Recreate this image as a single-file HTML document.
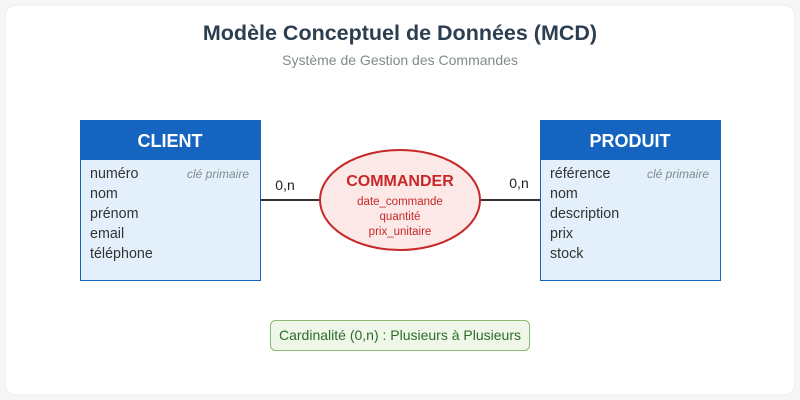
<!DOCTYPE html>
<html><head><meta charset="utf-8"><style>
html,body{margin:0;padding:0;background:#f5f6f8;}
svg{display:block;font-family:"Liberation Sans",sans-serif;}
</style></head><body>
<svg width="800" height="400" viewBox="0 0 800 400">
<rect x="0" y="0" width="800" height="400" fill="#f5f6f8"/>
<rect x="5.5" y="5.5" width="789" height="389" rx="10" fill="#ffffff" stroke="#eceef1"/>
<text x="400" y="40" text-anchor="middle" font-size="21.5" font-weight="bold" fill="#2c3e50">Modèle Conceptuel de Données (MCD)</text>
<text x="400" y="65" text-anchor="middle" font-size="14" fill="#7f8c8d">Système de Gestion des Commandes</text>

<line x1="260" y1="200" x2="320" y2="200" stroke="#333" stroke-width="2"/>
<line x1="480" y1="200" x2="540" y2="200" stroke="#333" stroke-width="2"/>
<text x="285" y="190" text-anchor="middle" font-size="14" fill="#222">0,n</text>
<text x="519" y="188" text-anchor="middle" font-size="14" fill="#222">0,n</text>

<rect x="80.5" y="120.5" width="180" height="160" fill="#e3f0fb" stroke="#1565c0"/>
<rect x="80" y="120" width="181" height="40" fill="#1565c0"/>
<text x="170" y="147" text-anchor="middle" font-size="18" font-weight="bold" fill="#fff">CLIENT</text>
<g font-size="14.3" fill="#333">
<text x="90" y="178">numéro</text><text x="90" y="198">nom</text><text x="90" y="218">prénom</text><text x="90" y="238">email</text><text x="90" y="258">téléphone</text>
</g>
<text x="249" y="178" text-anchor="end" font-size="12" font-style="italic" fill="#7f8c8d">clé primaire</text>

<rect x="540.5" y="120.5" width="180" height="160" fill="#e3f0fb" stroke="#1565c0"/>
<rect x="540" y="120" width="181" height="40" fill="#1565c0"/>
<text x="630" y="147" text-anchor="middle" font-size="18" font-weight="bold" fill="#fff">PRODUIT</text>
<g font-size="14.3" fill="#333">
<text x="550" y="178">référence</text><text x="550" y="198">nom</text><text x="550" y="218">description</text><text x="550" y="238">prix</text><text x="550" y="258">stock</text>
</g>
<text x="709" y="178" text-anchor="end" font-size="12" font-style="italic" fill="#7f8c8d">clé primaire</text>

<ellipse cx="400" cy="200" rx="80" ry="50" fill="#fde8e8" stroke="#c62828" stroke-width="2"/>
<text x="400" y="186" text-anchor="middle" font-size="16" font-weight="bold" fill="#c62828">COMMANDER</text>
<g font-size="11.5" fill="#c62828" text-anchor="middle">
<text x="400" y="205">date_commande</text><text x="400" y="220">quantité</text><text x="400" y="235">prix_unitaire</text>
</g>

<rect x="270.5" y="320.5" width="259" height="30" rx="5" fill="#eff7e8" stroke="#8bb870"/>
<text x="400" y="340" text-anchor="middle" font-size="14" fill="#2e6b2a">Cardinalité (0,n) : Plusieurs à Plusieurs</text>
</svg>
</body></html>
